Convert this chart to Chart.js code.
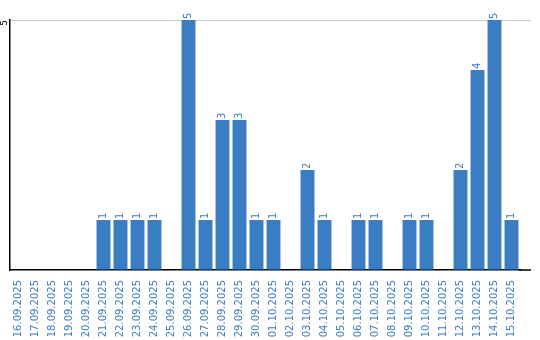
<!DOCTYPE html>
<html><head><meta charset="utf-8">
<script src="https://cdn.jsdelivr.net/npm/chart.js@4"></script>
<style>html,body{margin:0;padding:0;background:#fff}#w{width:540px;height:340px}</style>
</head><body><div id="w"><canvas id="c"></canvas></div>
<script>
const categories = ["16.09.2025","17.09.2025","18.09.2025","19.09.2025","20.09.2025","21.09.2025","22.09.2025","23.09.2025","24.09.2025","25.09.2025","26.09.2025","27.09.2025","28.09.2025","29.09.2025","30.09.2025","01.10.2025","02.10.2025","03.10.2025","04.10.2025","05.10.2025","06.10.2025","07.10.2025","08.10.2025","09.10.2025","10.10.2025","11.10.2025","12.10.2025","13.10.2025","14.10.2025","15.10.2025"];
const counts = [0,0,0,0,0,1,1,1,1,0,5,1,3,3,1,1,0,2,1,0,1,1,0,1,1,0,2,4,5,1];
const yTicks = [5];
const BLUE = '#3b7dc3';

const labelPlugin = {
  id: 'labels',
  afterDraw(chart) {
    const ctx = chart.ctx;
    const meta = chart.getDatasetMeta(0);
    const area = chart.chartArea;
    ctx.save();
    ctx.fillStyle = BLUE;
    ctx.font = '10px "DejaVu Sans"';
    ctx.textAlign = 'left';
    ctx.textBaseline = 'middle';
    meta.data.forEach((bar, i) => {
      const v = counts[i];
      if (!v) return;
      ctx.save();
      ctx.translate(bar.x, bar.y - 1);
      ctx.rotate(-Math.PI / 2);
      ctx.fillText(String(v), 0, 0);
      ctx.restore();
    });
    const ys = chart.scales.y;
    ctx.strokeStyle = '#cccccc';
    ctx.lineWidth = 1;
    yTicks.forEach(t => {
      const y = Math.round(ys.getPixelForValue(t)) + 0.5;
      ctx.beginPath();
      ctx.moveTo(area.right, y);
      ctx.lineTo(531, y);
      ctx.stroke();
    });
    // extend x axis line
    ctx.strokeStyle = '#000';
    ctx.lineWidth = 1.5;
    ctx.beginPath();
    ctx.moveTo(area.right - 1, area.bottom);
    ctx.lineTo(531, area.bottom);
    ctx.stroke();
    ctx.fillStyle = '#000';
    ctx.font = '9px "DejaVu Sans"';
    ctx.textAlign = 'center';
    ctx.textBaseline = 'middle';
    yTicks.forEach(t => {
      ctx.save();
      ctx.translate(4.5, ys.getPixelForValue(t) + 3);
      ctx.rotate(-Math.PI / 2);
      ctx.fillText(String(t), 0, 0);
      ctx.restore();
    });
    ctx.restore();
  }
};

new Chart(document.getElementById('c'), {
  type: 'bar',
  data: { labels: categories, datasets: [{ data: counts, backgroundColor: BLUE, barPercentage: 0.82, categoryPercentage: 1 }] },
  options: {
    responsive: true, maintainAspectRatio: false, animation: false,
    layout: { padding: { top: 20, right: 20, left: 0, bottom: 0 } },
    plugins: { legend: { display: false }, tooltip: { enabled: false } },
    scales: {
      x: {
        grid: { display: false },
        border: { display: true, color: '#000', width: 1.5 },
        ticks: { color: BLUE, font: { family: 'DejaVu Sans', size: 10 }, minRotation: 90, maxRotation: 90, autoSkip: false, padding: 2 },
        afterFit(s) { s.height = 70; }
      },
      y: {
        min: 0, max: 5,
        ticks: { display: false, stepSize: 5 },
        grid: { color: ctx => ctx.tick && ctx.tick.value === 5 ? '#cccccc' : 'rgba(0,0,0,0)', drawTicks: false },
        border: { display: true, color: '#000', width: 1.5 },
        afterFit(s) { s.width = 10; }
      }
    }
  },
  plugins: [labelPlugin]
});
</script>
</body></html>
